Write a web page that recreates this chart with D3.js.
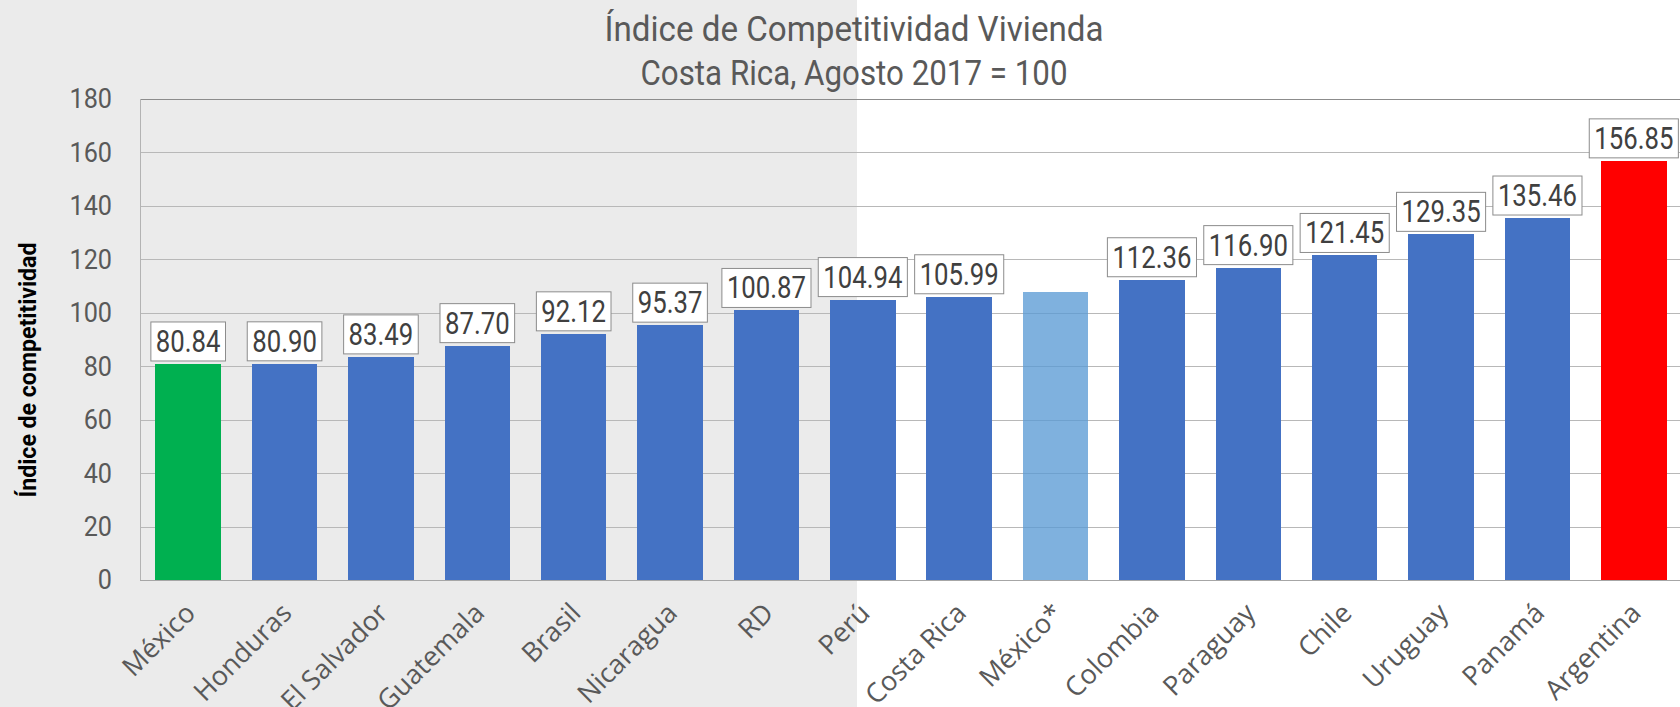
<!DOCTYPE html>
<html>
<head>
<meta charset="utf-8">
<script src="https://cdn.jsdelivr.net/npm/d3@7"></script>
<style>
  body { margin: 0; background: #fff; }
  .narrow { font-family: Roboto, "Liberation Sans", sans-serif; }
</style>
</head>
<body>
<div id="chart"></div>
<script>
const categories = ["México", "Honduras", "El Salvador", "Guatemala", "Brasil", "Nicaragua", "RD", "Perú",
  "Costa Rica", "México*", "Colombia", "Paraguay", "Chile", "Uruguay", "Panamá", "Argentina"];
const values = [80.84, 80.90, 83.49, 87.70, 92.12, 95.37, 100.87, 104.94,
  105.99, 107.6, 112.36, 116.90, 121.45, 129.35, 135.46, 156.85];
// México* has no data label in the original
const valueLabels = ["80.84", "80.90", "83.49", "87.70", "92.12", "95.37", "100.87", "104.94",
  "105.99", "", "112.36", "116.90", "121.45", "129.35", "135.46", "156.85"];
const yTicks = [0, 20, 40, 60, 80, 100, 120, 140, 160, 180];
const titleLines = ["Índice de Competitividad Vivienda", "Costa Rica, Agosto 2017 = 100"];
const yAxisTitle = "Índice de competitividad";

const width = 1680, height = 707;
const plotLeft = 140, plotRight = 1682, plotTop = 99, plotBottom = 580;

const data = categories.map((c, i) => ({ cat: c, value: values[i], label: valueLabels[i], i }));

const barColor = (d) => {
  if (d.i === 0) return "#00b050";              // lowest
  if (d.i === data.length - 1) return "#ff0000"; // highest
  if (d.cat === "México*") return "#5b9bd5";
  return "#4472c4";
};

// squeeze text horizontally to mimic the condensed font of the original
const condense = (sel, k) => sel.each(function () {
  const w = this.getComputedTextLength();
  d3.select(this).attr("textLength", w * k).attr("lengthAdjust", "spacingAndGlyphs");
});

const svg = d3.select("#chart").append("svg")
  .attr("width", width)
  .attr("height", height);

// grey panel on the left part of the picture
svg.append("rect")
  .attr("x", 0).attr("y", 0)
  .attr("width", 857).attr("height", height)
  .attr("fill", "#ebebeb");

const x = d3.scaleBand()
  .domain(categories)
  .range([plotLeft, plotRight])
  .paddingInner(0.32)
  .paddingOuter(0.16);

const y = d3.scaleLinear()
  .domain([0, 180])
  .range([plotBottom, plotTop]);

// gridlines
const grid = svg.append("g")
  .attr("transform", `translate(${plotLeft},0)`)
  .call(d3.axisLeft(y).tickValues(yTicks).tickSize(-(width - plotLeft)).tickFormat(""));
grid.select(".domain").remove();
grid.selectAll(".tick line")
  .attr("stroke", (d) => d === 180 ? "#8c8c8c" : "#b8b8b8")
  .attr("shape-rendering", "crispEdges");

// y axis line
svg.append("line")
  .attr("x1", plotLeft).attr("x2", plotLeft)
  .attr("y1", plotTop).attr("y2", plotBottom)
  .attr("stroke", "#b3b3b3")
  .attr("shape-rendering", "crispEdges");

// y tick labels
const yAxis = svg.append("g")
  .attr("transform", `translate(${plotLeft},0)`)
  .call(d3.axisLeft(y).tickValues(yTicks).tickSize(0).tickPadding(28));
yAxis.select(".domain").remove();
yAxis.selectAll("text")
  .attr("class", "narrow")
  .style("font-size", "28px")
  .attr("fill", "#595959")
  .call(condense, 0.9);

// bars
svg.append("g").selectAll("rect")
  .data(data)
  .join("rect")
  .attr("x", (d) => x(d.cat))
  .attr("y", (d) => y(d.value))
  .attr("width", x.bandwidth())
  .attr("height", (d) => y(0) - y(d.value))
  .attr("fill", (d) => barColor(d))
  .attr("fill-opacity", (d) => d.cat === "México*" ? 0.78 : 1)
  .attr("shape-rendering", "crispEdges");

// bottom axis line
svg.append("line")
  .attr("x1", plotLeft).attr("x2", width)
  .attr("y1", plotBottom).attr("y2", plotBottom)
  .attr("stroke", "#a6a6a6")
  .attr("shape-rendering", "crispEdges");

// category labels
const xAxis = svg.append("g")
  .attr("transform", `translate(0,${plotBottom})`)
  .call(d3.axisBottom(x).tickSize(0));
xAxis.select(".domain").remove();
xAxis.selectAll("text")
  .attr("x", 0).attr("y", 0)
  .attr("dy", "0.35em")
  .attr("text-anchor", "end")
  .attr("transform", "translate(2,28) rotate(-45)")
  .style("font-family", "'Open Sans', sans-serif")
  .style("font-size", "27px")
  .attr("fill", "#595959");

// value labels in boxes
const labels = svg.append("g").selectAll("g")
  .data(data.filter((d) => d.label !== ""))
  .join("g")
  .attr("transform", (d) => `translate(${x(d.cat) + x.bandwidth() / 2},${y(d.value) - 3})`);

labels.append("text")
  .attr("class", "narrow")
  .attr("text-anchor", "middle")
  .attr("y", -9)
  .style("font-size", "31px")
  .attr("fill", "#404040")
  .text((d) => d.label)
  .call(condense, 0.83);

labels.each(function () {
  const g = d3.select(this);
  const w = +g.select("text").attr("textLength");
  g.insert("rect", "text")
    .attr("x", -w / 2 - 5)
    .attr("y", -39)
    .attr("width", w + 10)
    .attr("height", 39)
    .attr("fill", "#fff")
    .attr("stroke", "#8c8c8c")
    .attr("stroke-width", 1);
});

// title
const titleWidths = [499, 427];
svg.append("text")
  .attr("class", "narrow")
  .attr("text-anchor", "middle")
  .attr("fill", "#595959")
  .style("font-size", "35px")
  .selectAll("tspan")
  .data(titleLines)
  .join("tspan")
  .attr("x", 854)
  .attr("y", (d, i) => 41 + i * 44)
  .attr("textLength", (d, i) => titleWidths[i])
  .attr("lengthAdjust", "spacingAndGlyphs")
  .text((d) => d);

// y axis title
svg.append("text")
  .attr("class", "narrow")
  .attr("text-anchor", "middle")
  .attr("transform", "translate(36,370) rotate(-90)")
  .style("font-size", "23px")
  .style("font-weight", "bold")
  .attr("fill", "#000")
  .attr("textLength", 255)
  .attr("lengthAdjust", "spacingAndGlyphs")
  .text(yAxisTitle);
</script>
</body>
</html>
